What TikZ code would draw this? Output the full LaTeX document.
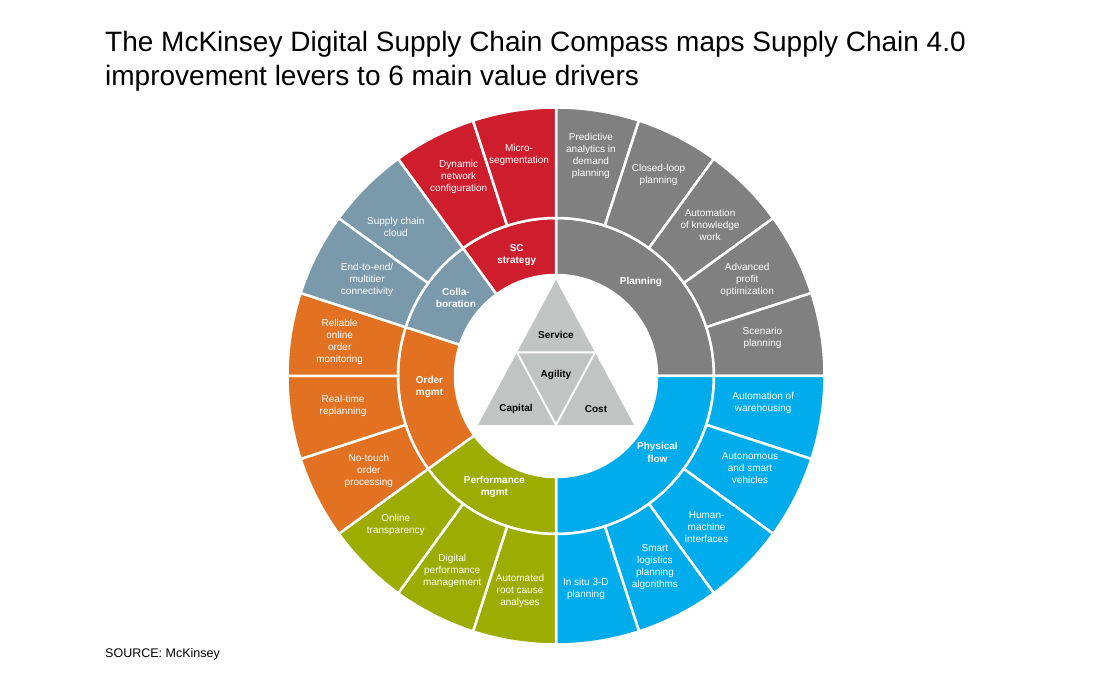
\documentclass[tikz,border=0pt]{standalone}
\usepackage{fontspec}
\setmainfont{Liberation Sans}
\usetikzlibrary{calc}
\definecolor{planninggray}{RGB}{128,128,128}
\definecolor{flowblue}{RGB}{0,172,236}
\definecolor{perfgreen}{RGB}{157,172,0}
\definecolor{orderorange}{RGB}{226,114,34}
\definecolor{collabblue}{RGB}{122,154,172}
\definecolor{strategyred}{RGB}{206,30,46}
\definecolor{valuegray}{RGB}{192,196,194}
\tikzstyle{sector}=[draw=white,line width=2.5pt]
\tikzstyle{lever}=[text=white,align=center,inner sep=1pt,font=\fontsize{10}{12}\selectfont]
\tikzstyle{driver}=[text=white,align=center,inner sep=1pt,font=\fontsize{10}{12.5}\selectfont\bfseries]
\tikzstyle{value}=[inner sep=1pt,font=\fontsize{10}{12}\selectfont\bfseries]

\begin{document}
\begin{tikzpicture}[x=1pt,y=1pt]
\useasboundingbox (-556,-301) rectangle (557,376);
\def\rin{101pt}
\def\rmid{158pt}
\def\rout{268.5pt}

    % title and source
    \node[anchor=north west,inner sep=0pt,align=left,font=\fontsize{28}{34}\selectfont] (title) at (-451,345)
        {The McKinsey Digital Supply Chain Compass maps Supply Chain 4.0\\improvement levers to 6 main value drivers};
    \node[anchor=base west,inner sep=0pt,font=\fontsize{12.5}{14}\selectfont] (source) at (-451,-281) {SOURCE: McKinsey};

    % inner ring: value drivers
    \foreach \start/ \stop/ \col in {90/0/planninggray, 0/-90/flowblue, -90/-144/perfgreen, -144/-198/orderorange, 162/126/collabblue, 126/90/strategyred}
        \path[sector,fill=\col] (\start:\rin) arc[start angle=\start,end angle=\stop,radius=\rin]
            -- (\stop:\rmid) arc[start angle=\stop,end angle=\start,radius=\rmid] -- cycle;

    % outer ring: improvement levers, 18 degrees each
    \foreach \col [count=\i from 0] in {planninggray,planninggray,planninggray,planninggray,planninggray,
        flowblue,flowblue,flowblue,flowblue,flowblue,perfgreen,perfgreen,perfgreen,
        orderorange,orderorange,orderorange,collabblue,collabblue,strategyred,strategyred}
    {
        \pgfmathsetmacro\start{90-18*\i}
        \pgfmathsetmacro\stop{72-18*\i}
        \path[sector,fill=\col] (\start:\rmid) arc[start angle=\start,end angle=\stop,radius=\rmid]
            -- (\stop:\rout) arc[start angle=\stop,end angle=\start,radius=\rout] -- cycle;
    }

    \foreach \ang/ \r/ \name/ \txt in {81/223/predictive/{Predictive\\analytics in\\demand\\planning}, 63/226/closedloop/{Closed-loop\\planning},
        44.5/216/knowledge/{Automation\\of knowledge\\work}, 26.7/214/profit/{Advanced\\profit\\optimization}, 10.5/210/scenario/{Scenario\\planning},
        -7.5/209/warehousing/{Automation of\\warehousing}, -25.5/215/vehicles/{Autonomous\\and smart\\vehicles}, -45/213/hmi/{Human-\\machine\\interfaces},
        -62.6/215/logistics/{Smart\\logistics\\planning\\algorithms}, -82/215/insitu/{In situ 3-D\\planning},
        -99.5/218/rootcause/{Automated\\root cause\\analyses}, -118/221/digitalperf/{Digital\\performance\\management}, -137/219/transparency/{Online\\transparency},
        -153/210/notouch/{No-touch\\order\\processing}, -172/215/replanning/{Real-time\\replanning}, -189/219/monitoring/{Reliable\\online\\order\\monitoring},
        153/212/endtoend/{End-to-end/\\multitier\\connectivity}, 137/219/cloud/{Supply chain\\cloud},
        116/222/network/{Dynamic\\network\\configuration}, 99.5/224/microseg/{Micro-\\segmentation}}
        \node[lever] (\name) at (\ang:\r) {\txt};

    \foreach \ang/ \name/ \txt in {48/planning/Planning, -37/flow/{Physical\\flow}, 241/perf/{Performance\\mgmt},
        185/order/{Order\\mgmt}, 142/collab/{Colla-\\boration}, 108/strategy/{SC\\strategy}}
        \node[driver] (\name) at (\ang:127) {\txt};

    % value triangle
    \coordinate (apex) at (0,96);
    \coordinate (left) at (-78,-49);
    \coordinate (right) at (78,-49);
    \fill[valuegray] (apex) -- (left) -- (right) -- cycle;
    \draw[white,line width=2pt] ($(apex)!0.5!(left)$) -- ($(apex)!0.5!(right)$) -- ($(left)!0.5!(right)$) -- cycle;

    \foreach \pos/ \name in {{(0,41)/Service},{(0,1)/Agility},{(-40,-33)/Capital},{(40,-33)/Cost}}
        \node[value] (\name) at \pos {\name};

\end{tikzpicture}
\end{document}
